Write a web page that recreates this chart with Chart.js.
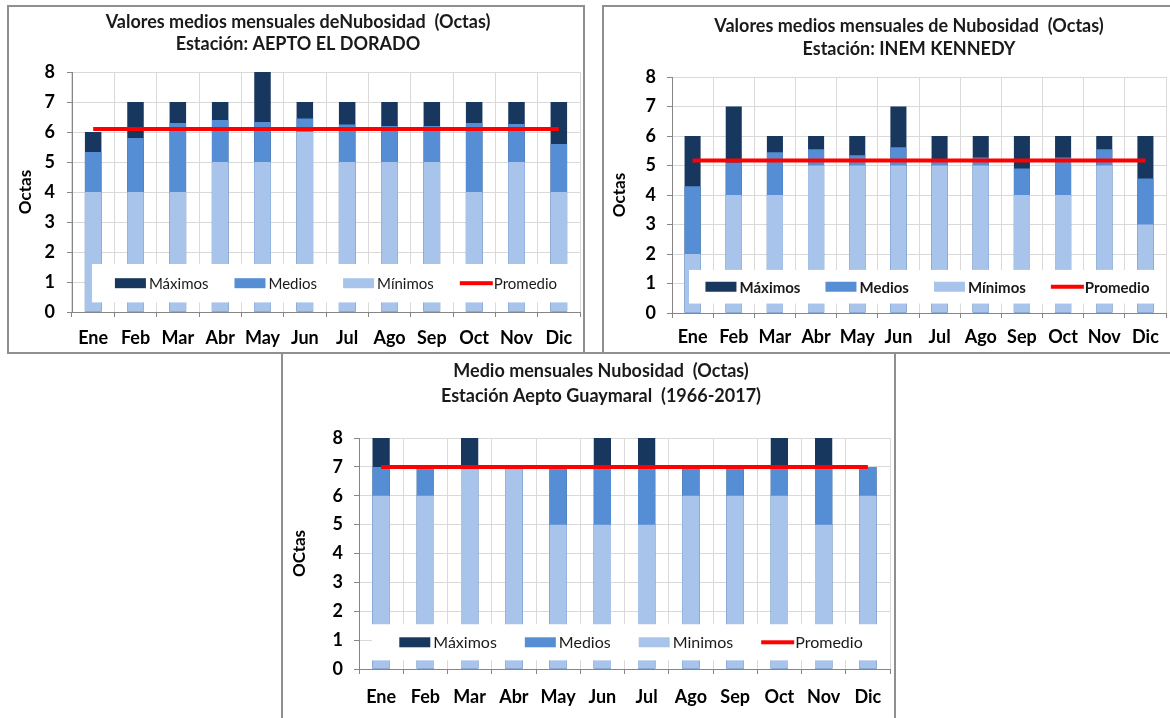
<!DOCTYPE html>
<html>
<head>
<meta charset="utf-8">
<script src="https://cdn.jsdelivr.net/npm/chart.js@4/dist/chart.umd.min.js"></script>
<style>
html, body { margin:0; padding:0; background:#fff; width:1170px; height:718px; overflow:hidden; }
.marco { position:absolute; border:2px solid #8f8f8f; box-sizing:border-box; background:#fff; }
canvas { position:absolute; }
</style>
</head>
<body>
<div class="marco" style="left:7px;top:5px;width:578px;height:349px"></div>
<div class="marco" style="left:602px;top:5px;width:620px;height:349px"></div>
<canvas id="c1" width="576" height="347" style="left:8px;top:6px"></canvas>
<canvas id="c2" width="612" height="347" style="left:603px;top:6px"></canvas>
<div class="marco" style="left:281px;top:352px;width:615px;height:380px"></div>
<canvas id="c3" width="638" height="377" style="left:282px;top:353px"></canvas>
<script>
// meses y eje
var meses = ['Ene','Feb','Mar','Abr','May','Jun','Jul','Ago','Sep','Oct','Nov','Dic'];
var ejeMin = 0, ejeMax = 8, ejePaso = 1;

// Estacion AEPTO EL DORADO
var doradoMax  = [6, 7, 7, 7, 8, 7, 7, 7, 7, 7, 7, 7];
var doradoMed  = [5.33, 5.8, 6.3, 6.4, 6.33, 6.45, 6.25, 6.2, 6.2, 6.3, 6.27, 5.6];
var doradoMin  = [4, 4, 4, 5, 5, 6, 5, 5, 5, 4, 5, 4];
var doradoProm = [6.1, 6.1, 6.1, 6.1, 6.1, 6.1, 6.1, 6.1, 6.1, 6.1, 6.1, 6.1];

// Estacion INEM KENNEDY
var kennedyMax  = [6, 7, 6, 6, 6, 7, 6, 6, 6, 6, 6, 6];
var kennedyMed  = [4.3, 5.1, 5.45, 5.55, 5.35, 5.62, 5.12, 5.27, 4.9, 5.27, 5.55, 4.56];
var kennedyMin  = [2, 4, 4, 5, 5, 5, 5, 5, 4, 4, 5, 3];
var kennedyProm = [5.17, 5.17, 5.17, 5.17, 5.17, 5.17, 5.17, 5.17, 5.17, 5.17, 5.17, 5.17];

// Estacion Aepto Guaymaral (1966-2017)
var guayMax  = [8, 7, 8, 7, 7, 8, 8, 7, 7, 8, 8, 7];
var guayMed  = [7, 7, 7, 7, 7, 7, 7, 7, 7, 7, 7, 7];
var guayMin  = [6, 6, 7, 7, 5, 5, 5, 6, 6, 6, 5, 6];
var guayProm = [7, 7, 7, 7, 7, 7, 7, 7, 7, 7, 7, 7];

var etiquetas  = ['Máximos', 'Medios', 'Mínimos', 'Promedio'];
var etiquetas3 = ['Máximos', 'Medios', 'Minimos', 'Promedio'];

var FUENTE = 'Lato, "Open Sans", sans-serif';
var colMax = '#17375e', colMed = '#558ed5', colMin = '#a9c4eb', colProm = '#ff0000';

Chart.defaults.font.family = FUENTE;
Chart.defaults.color = '#000';

// titulo en dos lineas, dibujado a mano
var tituloPlugin = {
	id: 'titulo',
	afterDraw: function(chart, args, o) {
		var ctx = chart.ctx;
		ctx.save();
		ctx.fillStyle = '#1a1a1a';
		ctx.font = 'bold ' + o.size + 'px ' + FUENTE;
		ctx.textAlign = 'center';
		ctx.textBaseline = 'middle';
		for (var i = 0; i < o.lineas.length; i++) {
			ctx.fillText(o.lineas[i], o.x, o.y[i]);
		}
		ctx.restore();
	}
};

// leyenda dentro del area, con fondo blanco que tapa las barras
var leyendaPlugin = {
	id: 'leyendaDentro',
	afterDatasetsDraw: function(chart, args, o) {
		var ctx = chart.ctx, area = chart.chartArea, ys = chart.scales.y;
		var top = ys.getPixelForValue(o.arriba);
		var bottom = ys.getPixelForValue(o.abajo);
		var left = area.left + o.izq;
		var right = area.right;
		ctx.save();
		ctx.fillStyle = '#fff';
		ctx.fillRect(left, top, right - left, bottom - top);

		ctx.font = (o.negrita ? 'bold ' : '') + o.size + 'px ' + FUENTE;
		ctx.textBaseline = 'middle';
		ctx.textAlign = 'left';
		var ds = chart.data.datasets;
		var sw = 31, gTxt = 3, gItem = o.hueco;
		var total = 0;
		for (var i = 0; i < ds.length; i++) {
			total += sw + gTxt + ctx.measureText(ds[i].label).width;
			if (i < ds.length - 1) total += gItem;
		}
		var x = (left + right) / 2 - total / 2;
		var cy = (top + bottom) / 2;
		for (var i = 0; i < ds.length; i++) {
			if (ds[i].type === 'line') {
				ctx.fillStyle = ds[i].borderColor;
				ctx.fillRect(x, cy - 2, sw + 2, 4);
			} else {
				ctx.fillStyle = ds[i].backgroundColor;
				ctx.fillRect(x, cy - 5, sw, 10);
			}
			x += sw + gTxt;
			ctx.fillStyle = '#1a1a1a';
			ctx.fillText(ds[i].label, x, cy + 1);
			x += ctx.measureText(ds[i].label).width + gItem;
		}
		ctx.restore();
	}
};

function grafico(id, maxs, meds, mins, prom, labels, p) {
	var ctx = document.getElementById(id);
	return new Chart(ctx, {
		type: 'bar',
		data: {
			labels: meses,
			datasets: [
				{ label: labels[0], data: maxs, backgroundColor: colMax, grouped: false, order: 3, barPercentage: 0.39, categoryPercentage: 1 },
				{ label: labels[1], data: meds, backgroundColor: colMed, grouped: false, order: 2, barPercentage: 0.39, categoryPercentage: 1 },
				{ label: labels[2], data: mins, backgroundColor: colMin, grouped: false, order: 1, barPercentage: 0.39, categoryPercentage: 1 },
				{ label: labels[3], data: prom, type: 'line', borderColor: colProm, backgroundColor: colProm, borderWidth: 4, pointRadius: 0, order: 0, fill: false }
			]
		},
		options: {
			responsive: false,
			animation: false,
			layout: { padding: { top: p.arriba, right: p.derecha, left: 0, bottom: 0 } },
			plugins: {
				legend: { display: false },
				tooltip: { enabled: false },
				titulo: p.titulo,
				leyendaDentro: p.leyenda
			},
			scales: {
				x: {
					grid: { color: '#d9d9d9', tickColor: '#868686', tickLength: 5, offset: true },
					border: { color: '#868686' },
					ticks: { font: { size: 18, weight: 'bold' }, color: '#000', padding: p.padX, autoSkip: false, maxRotation: 0 },
					afterFit: function(s) { s.height = p.altoX; }
				},
				y: {
					min: ejeMin, max: ejeMax,
					grid: { color: '#d9d9d9', tickColor: '#868686', tickLength: 5 },
					border: { color: '#868686' },
					ticks: { stepSize: ejePaso, font: { size: 18, weight: 'bold' }, color: '#000', padding: p.padY },
					title: { display: true, text: p.tituloY, font: { size: 17, weight: 'bold' }, color: '#000', padding: { top: p.padTitY, bottom: 0 } },
					afterFit: function(s) { s.width = p.anchoY; }
				}
			}
		},
		plugins: [tituloPlugin, leyendaPlugin]
	});
}

grafico('c1', doradoMax, doradoMed, doradoMin, doradoProm, etiquetas, {
	arriba: 66, derecha: 4, altoX: 41, anchoY: 64, padX: 10, padY: 12, padTitY: 7, tituloY: 'Octas',
	titulo: { lineas: ['Valores medios mensuales deNubosidad  (Octas)', 'Estación: AEPTO EL DORADO'], x: 290, y: [16, 38], size: 18 },
	leyenda: { arriba: 1.6, abajo: 0.32, izq: 20, size: 15, negrita: false, hueco: 26 }
});

grafico('c2', kennedyMax, kennedyMed, kennedyMin, kennedyProm, etiquetas, {
	arriba: 71, derecha: 49, altoX: 40, anchoY: 69, padX: 8, padY: 11, padTitY: 6, tituloY: 'Octas',
	titulo: { lineas: ['Valores medios mensuales de Nubosidad  (Octas)', 'Estación: INEM KENNEDY'], x: 306, y: [20, 43], size: 18 },
	leyenda: { arriba: 1.46, abajo: 0.32, izq: 17, size: 15, negrita: true, hueco: 25 }
});

grafico('c3', guayMax, guayMed, guayMin, guayProm, etiquetas3, {
	arriba: 85, derecha: 30, altoX: 61, anchoY: 77, padX: 12, padY: 11, padTitY: 7, tituloY: 'OCtas',
	titulo: { lineas: ['Medio mensuales Nubosidad  (Octas)', 'Estación Aepto Guaymaral  (1966-2017)'], x: 319, y: [18, 43], size: 18 },
	leyenda: { arriba: 1.55, abajo: 0.3, izq: 13, size: 16, negrita: false, hueco: 28 }
});
</script>
</body>
</html>
